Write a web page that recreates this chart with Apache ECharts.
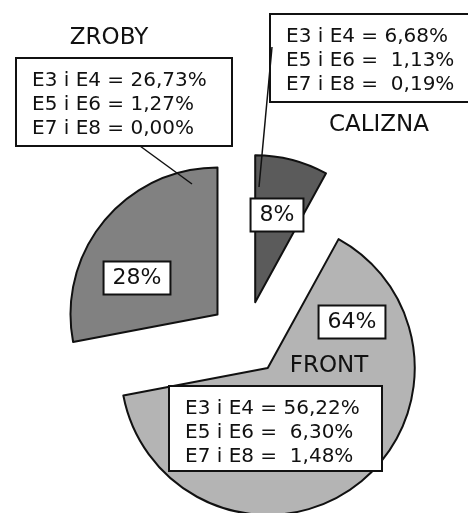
<!DOCTYPE html>
<html>
<head>
<meta charset="utf-8">
<script src="https://cdn.jsdelivr.net/npm/echarts@6/dist/echarts.min.js"></script>
<style>
  html, body { margin: 0; padding: 0; background: #fff; }
  #chart { width: 468px; height: 513px; }
</style>
</head>
<body>
<div id="chart"></div>
<script>
// dane
var categories = ['CALIZNA', 'FRONT', 'ZROBY'];
var shares = [8, 64, 28];
var colors = ['#5b5b5b', '#b4b4b4', '#818181'];
var lineE34 = ['E3 i E4 = 6,68%', 'E3 i E4 = 56,22%', 'E3 i E4 = 26,73%'];
var lineE56 = ['E5 i E6 =  1,13%', 'E5 i E6 =  6,30%', 'E5 i E6 = 1,27%'];
var lineE78 = ['E7 i E8 =  0,19%', 'E7 i E8 =  1,48%', 'E7 i E8 = 0,00%'];

// pozycje etykiet (px)
var pctPos = [[277, 215], [352, 322], [137, 278]];
var namePos = [[379, 125], [329, 366], [109, 38]];
var boxRect = [[270, 14, 210, 88], [169, 386, 213, 85], [16, 58, 216, 88]];
var leaders = [[[272, 47], [259, 187]], null, [[140, 146], [192, 184]]];

var font = 'DejaVu Sans, Verdana, sans-serif';

var total = 0;
for (var t = 0; t < shares.length; t++) total += shares[t];

var pieData = [];
for (var i = 0; i < categories.length; i++) {
    pieData.push({
        name: categories[i],
        value: shares[i],
        selected: true,
        itemStyle: { color: colors[i] },
        select: { itemStyle: { color: colors[i] } }
    });
}

var graphics = [];
for (var k = 0; k < categories.length; k++) {
    var r = boxRect[k];
    graphics.push({
        type: 'rect', z: 100,
        shape: { x: r[0], y: r[1], width: r[2], height: r[3] },
        style: { fill: '#fff', stroke: '#111', lineWidth: 2 }
    });
    graphics.push({
        type: 'text', z: 101,
        x: r[0] + 16, y: r[1] + 11,
        style: {
            text: [lineE34[k], lineE56[k], lineE78[k]].join('\n'),
            font: '20px ' + font,
            lineHeight: 24,
            fill: '#111',
            textVerticalAlign: 'top'
        }
    });
    graphics.push({
        type: 'text', z: 101,
        x: namePos[k][0], y: namePos[k][1],
        style: {
            text: categories[k],
            font: '23px ' + font,
            fill: '#111',
            textAlign: 'center',
            textVerticalAlign: 'middle'
        }
    });
    // procent w ramce
    graphics.push({
        type: 'text', z: 103,
        x: pctPos[k][0], y: pctPos[k][1],
        style: {
            text: Math.round(shares[k] / total * 100) + '%',
            font: '22px ' + font,
            fill: '#111',
            textAlign: 'center',
            textVerticalAlign: 'middle',
            backgroundColor: '#fff',
            borderColor: '#111',
            borderWidth: 2,
            padding: [5, 8, 4, 8]
        }
    });
    if (leaders[k]) {
        graphics.push({
            type: 'line', z: 102,
            shape: { x1: leaders[k][0][0], y1: leaders[k][0][1], x2: leaders[k][1][0], y2: leaders[k][1][1] },
            style: { stroke: '#111', lineWidth: 1.5 }
        });
    }
}

var chart = echarts.init(document.getElementById('chart'));
chart.setOption({
    backgroundColor: '#fff',
    animation: false,
    graphic: graphics,
    series: [{
        type: 'pie',
        center: [246, 338],
        radius: 147,
        startAngle: 90,
        clockwise: true,
        selectedMode: 'multiple',
        selectedOffset: 37,
        emphasis: { disabled: true },
        itemStyle: { borderColor: '#111', borderWidth: 2 },
        label: { show: false },
        labelLine: { show: false },
        data: pieData
    }]
});
</script>
</body>
</html>
